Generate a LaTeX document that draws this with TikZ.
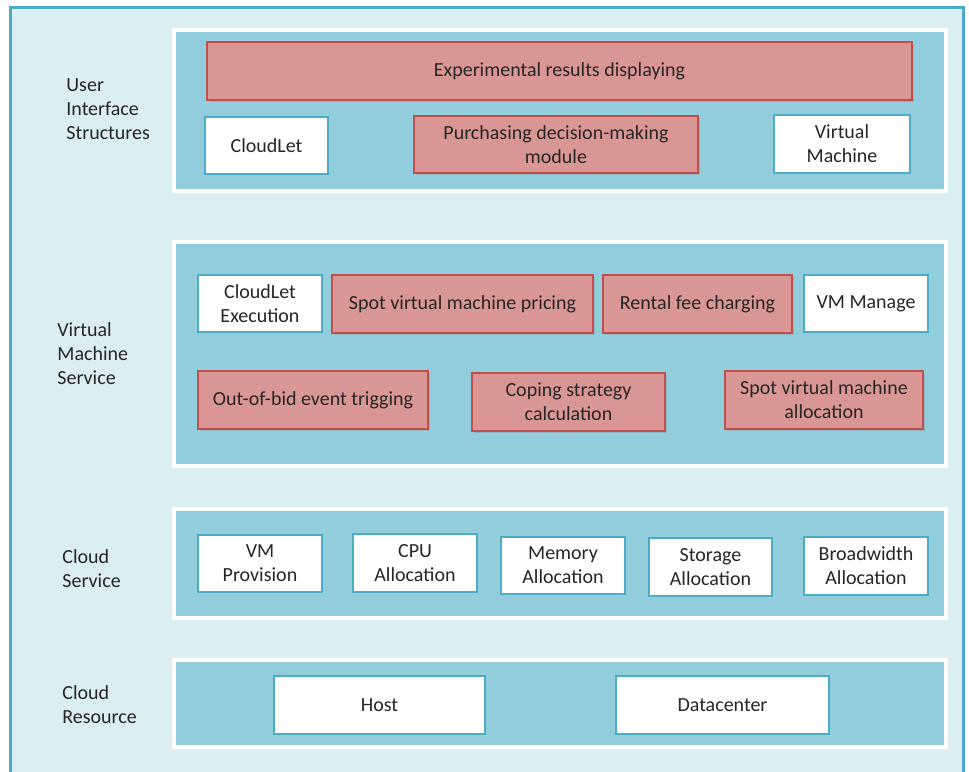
\documentclass[tikz,border=0pt]{standalone}
\usepackage{fontspec}
\setmainfont{Carlito}
\usepackage{xcolor}
\usepackage{tikz}
\usetikzlibrary{fit,shadows}
\definecolor{outerbg}{HTML}{DBEEF4}
\definecolor{outerln}{HTML}{4BACC6}
\definecolor{layerbg}{HTML}{92CDDC}
\definecolor{pinkbg}{HTML}{D99694}
\definecolor{pinkln}{HTML}{C0504D}
\definecolor{txtc}{HTML}{262626}
\tikzset{
  layer/.style={draw=white,line width=2pt,fill=layerbg,inner sep=0pt,
    drop shadow={shadow xshift=1pt,shadow yshift=-1pt,opacity=0.35}},
  wh/.style args={#1x#2}{minimum width=#1*0.5pt,minimum height=#2*0.5pt},
  pinkbox/.style={draw=pinkln,line width=0.9pt,fill=pinkbg,inner sep=0pt,align=center,
    text=txtc,font=\fontsize{10}{12}\selectfont,
    drop shadow={shadow xshift=0.8pt,shadow yshift=-0.8pt,opacity=0.3}},
  whitebox/.style={draw=outerln,line width=1.2pt,fill=white,inner sep=0pt,align=center,
    text=txtc,font=\fontsize{10}{12}\selectfont},
  lbl/.style={anchor=west,align=left,text=txtc,inner sep=0pt,
    font=\fontsize{10}{12}\selectfont}
}
\begin{document}
\begin{tikzpicture}[x=0.5pt,y=-0.5pt]
\useasboundingbox (0,0) rectangle (969,771);
\clip (0,0) rectangle (969,771);
\draw[draw=outerln,line width=1.5pt,fill=outerbg] (10,7) rectangle (963,800);

% layers
\node[layer,fit={(174,30)(946,191)}] (uiL) {};
\node[layer,fit={(174,242)(946,466)}] (vmL) {};
\node[layer,fit={(174,509)(946,618)}] (csL) {};
\node[layer,fit={(174,660)(946,747)}] (crL) {};

% layer names
\node[lbl] (uiT) at (66,109) {User\\Interface\\Structures};
\node[lbl] (vmT) at (57,354) {Virtual\\Machine\\Service};
\node[lbl] (csT) at (62,569) {Cloud\\Service};
\node[lbl] (crT) at (62,705) {Cloud\\Resource};

% user interface structures
\node[pinkbox,wh=705x58] (exp) at (559.5,71) {Experimental results displaying};
\node[whitebox,wh=123x57] (cl) at (266.5,145.5) {CloudLet};
\node[pinkbox,wh=284x57] (pur) at (556,144.5) {Purchasing decision-making\\module};
\node[whitebox,wh=136x58] (vm) at (842,144) {Virtual\\Machine};

% virtual machine service
\node[whitebox,wh=124x57] (cle) at (260,303.5) {CloudLet\\Execution};
\node[pinkbox,wh=261x58] (svp) at (462.5,304) {Spot virtual machine pricing};
\node[pinkbox,wh=189x58] (rfc) at (697.5,304) {Rental fee charging};
\node[whitebox,wh=124x57] (vmm) at (866,303.5) {VM Manage};
\node[pinkbox,wh=230x58] (oob) at (313,400) {Out-of-bid event trigging};
\node[pinkbox,wh=193x58] (csc) at (568.5,402) {Coping strategy\\calculation};
\node[pinkbox,wh=198x58] (sva) at (824,400) {Spot virtual machine\\allocation};

% cloud service
\node[whitebox,wh=124x57] (vmp) at (260,563.5) {VM\\Provision};
\node[whitebox,wh=124x58] (cpu) at (415,563) {CPU\\Allocation};
\node[whitebox,wh=124x57] (mem) at (563,565.5) {Memory\\Allocation};
\node[whitebox,wh=123x58] (sto) at (710.5,567) {Storage\\Allocation};
\node[whitebox,wh=124x58] (bw) at (866,566) {Broadwidth\\Allocation};

% cloud resource
\node[whitebox,wh=211x58] (host) at (379.5,705) {Host};
\node[whitebox,wh=213x58] (dc) at (722.5,705) {Datacenter};
\end{tikzpicture}
\end{document}
